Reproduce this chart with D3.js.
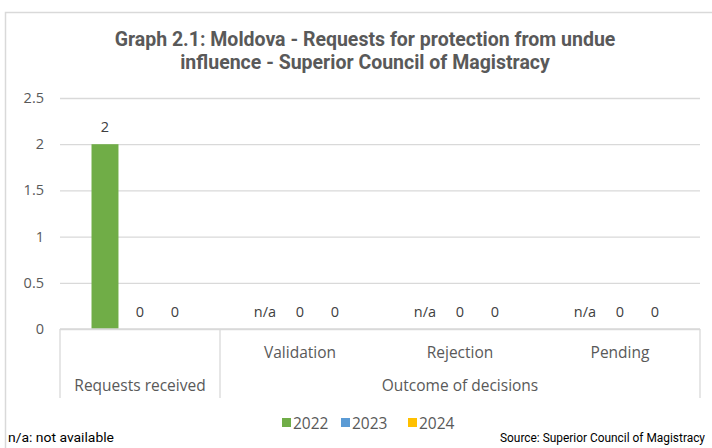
<!DOCTYPE html>
<html>
<head>
<meta charset="utf-8">
<script src="https://d3js.org/d3.v7.min.js"></script>
<style>
  body { margin: 0; background: #fff; }
  svg { display: block; }
</style>
</head>
<body>
<div id="chart"></div>
<script>
// data
const groups = ["Requests received", "Outcome of decisions"];
const categories = ["Requests received", "Validation", "Rejection", "Pending"];
const categoryGroup = ["Requests received", "Outcome of decisions", "Outcome of decisions", "Outcome of decisions"];
const years = ["2022", "2023", "2024"];
const values2022 = [2, null, null, null];   // null = n/a
const values2023 = [0, 0, 0, 0];
const values2024 = [0, 0, 0, 0];
const yTicks = [0, 0.5, 1, 1.5, 2, 2.5];
const colors = ["#70AD47", "#5B9BD5", "#FFC000"];

const W = 712, H = 448;
const margin = {top: 98, right: 12, bottom: 119, left: 60};

const svg = d3.select("#chart").append("svg")
    .attr("width", W)
    .attr("height", H);

// outer chart border (runs off the picture at right and bottom)
svg.append("rect")
    .attr("x", 5.5).attr("y", 12.5)
    .attr("width", W + 10).attr("height", H + 10)
    .attr("fill", "none")
    .attr("stroke", "#d9d9d9")
    .attr("stroke-width", 1.5);

// title
const title = svg.append("text")
    .attr("text-anchor", "middle")
    .style("font-family", "Roboto")
    .style("font-weight", "bold")
    .style("font-size", "19.5px")
    .attr("fill", "#595959");
title.append("tspan").attr("x", 365).attr("y", 46).text("Graph 2.1: Moldova - Requests for protection from undue");
title.append("tspan").attr("x", 365).attr("y", 69).text("influence - Superior Council of Magistracy");

const x = d3.scaleBand()
    .domain(categories)
    .range([margin.left, W - margin.right]);

const xInner = d3.scaleBand()
    .domain(years)
    .range([0, x.bandwidth()])
    .paddingInner(0.23)
    .paddingOuter(0.9);

const y = d3.scaleLinear()
    .domain([0, 2.5])
    .range([H - margin.bottom, margin.top]);

// gridlines
const yGrid = d3.axisLeft(y)
    .tickValues(yTicks)
    .tickSize(-(W - margin.left - margin.right))
    .tickFormat("");
svg.append("g")
    .attr("transform", `translate(${margin.left},0)`)
    .call(yGrid)
    .call(g => g.select(".domain").remove())
    .call(g => g.selectAll("line").attr("stroke", "#d9d9d9").attr("stroke-width", 1.3));

// y tick labels
svg.append("g")
    .selectAll("text")
    .data(yTicks)
    .join("text")
    .attr("x", 44)
    .attr("y", d => y(d) + 5)
    .attr("text-anchor", "end")
    .style("font-family", "Open Sans")
    .style("font-size", "14.5px")
    .attr("fill", "#595959")
    .text(d => d);

// bars
const series = [values2022, values2023, values2024];
const barData = [];
series.forEach((vals, si) => {
  vals.forEach((v, ci) => {
    barData.push({cat: categories[ci], year: years[si], value: v, color: colors[si]});
  });
});

svg.append("g")
    .selectAll("rect")
    .data(barData.filter(d => d.value))
    .join("rect")
    .attr("x", d => x(d.cat) + xInner(d.year))
    .attr("y", d => y(d.value))
    .attr("width", xInner.bandwidth())
    .attr("height", d => y(0) - y(d.value))
    .attr("fill", d => d.color);

// data labels
svg.append("g")
    .selectAll("text")
    .data(barData)
    .join("text")
    .attr("x", d => x(d.cat) + xInner(d.year) + xInner.bandwidth() / 2)
    .attr("y", d => y(d.value || 0) - 12)
    .attr("text-anchor", "middle")
    .style("font-family", "Open Sans")
    .style("font-size", "14.5px")
    .attr("fill", "#404040")
    .text(d => d.value === null ? "n/a" : d.value);

// category axis (two levels)
const axisG = svg.append("g").attr("stroke", "#d9d9d9").attr("stroke-width", 1.3);
axisG.append("line")
    .attr("x1", margin.left).attr("x2", W - margin.right)
    .attr("y1", y(0)).attr("y2", y(0));
const dividers = [x(categories[0]), x(categories[1]), x(categories[3]) + x.bandwidth()];
axisG.selectAll(".div")
    .data(dividers)
    .join("line")
    .attr("x1", d => d).attr("x2", d => d)
    .attr("y1", y(0)).attr("y2", y(0) + 69);

svg.append("g")
    .selectAll("text")
    .data(categories.slice(1))
    .join("text")
    .attr("x", d => x(d) + x.bandwidth() / 2)
    .attr("y", y(0) + 29)
    .attr("text-anchor", "middle")
    .style("font-family", "Open Sans")
    .style("font-size", "15.5px")
    .attr("fill", "#595959")
    .text(d => d);

svg.append("g")
    .selectAll("text")
    .data(groups)
    .join("text")
    .attr("x", g => {
      const cs = categories.filter((c, i) => categoryGroup[i] === g);
      return (x(cs[0]) + x(cs[cs.length - 1]) + x.bandwidth()) / 2;
    })
    .attr("y", y(0) + 62)
    .attr("text-anchor", "middle")
    .style("font-family", "Open Sans")
    .style("font-size", "15.5px")
    .attr("fill", "#595959")
    .text(d => d);

// legend
const legendX = [282, 341, 408];
const legend = svg.append("g");
years.forEach((yr, i) => {
  legend.append("rect")
      .attr("x", legendX[i]).attr("y", 418)
      .attr("width", 9).attr("height", 9)
      .attr("fill", colors[i]);
  legend.append("text")
      .attr("x", legendX[i] + 11).attr("y", 429)
      .style("font-family", "Open Sans")
      .style("font-size", "15.5px")
      .attr("fill", "#595959")
      .text(yr);
});

// footnotes
svg.append("text")
    .attr("x", 8).attr("y", 442)
    .style("font-family", "Roboto")
    .style("font-size", "12px")
    .attr("textLength", 106)
    .attr("lengthAdjust", "spacingAndGlyphs")
    .attr("fill", "#000")
    .text("n/a: not available");
svg.append("text")
    .attr("x", 500).attr("y", 442)
    .style("font-family", "Roboto")
    .style("font-size", "12px")
    .attr("textLength", 205)
    .attr("lengthAdjust", "spacingAndGlyphs")
    .attr("fill", "#000")
    .text("Source: Superior Council of Magistracy");
</script>
</body>
</html>
